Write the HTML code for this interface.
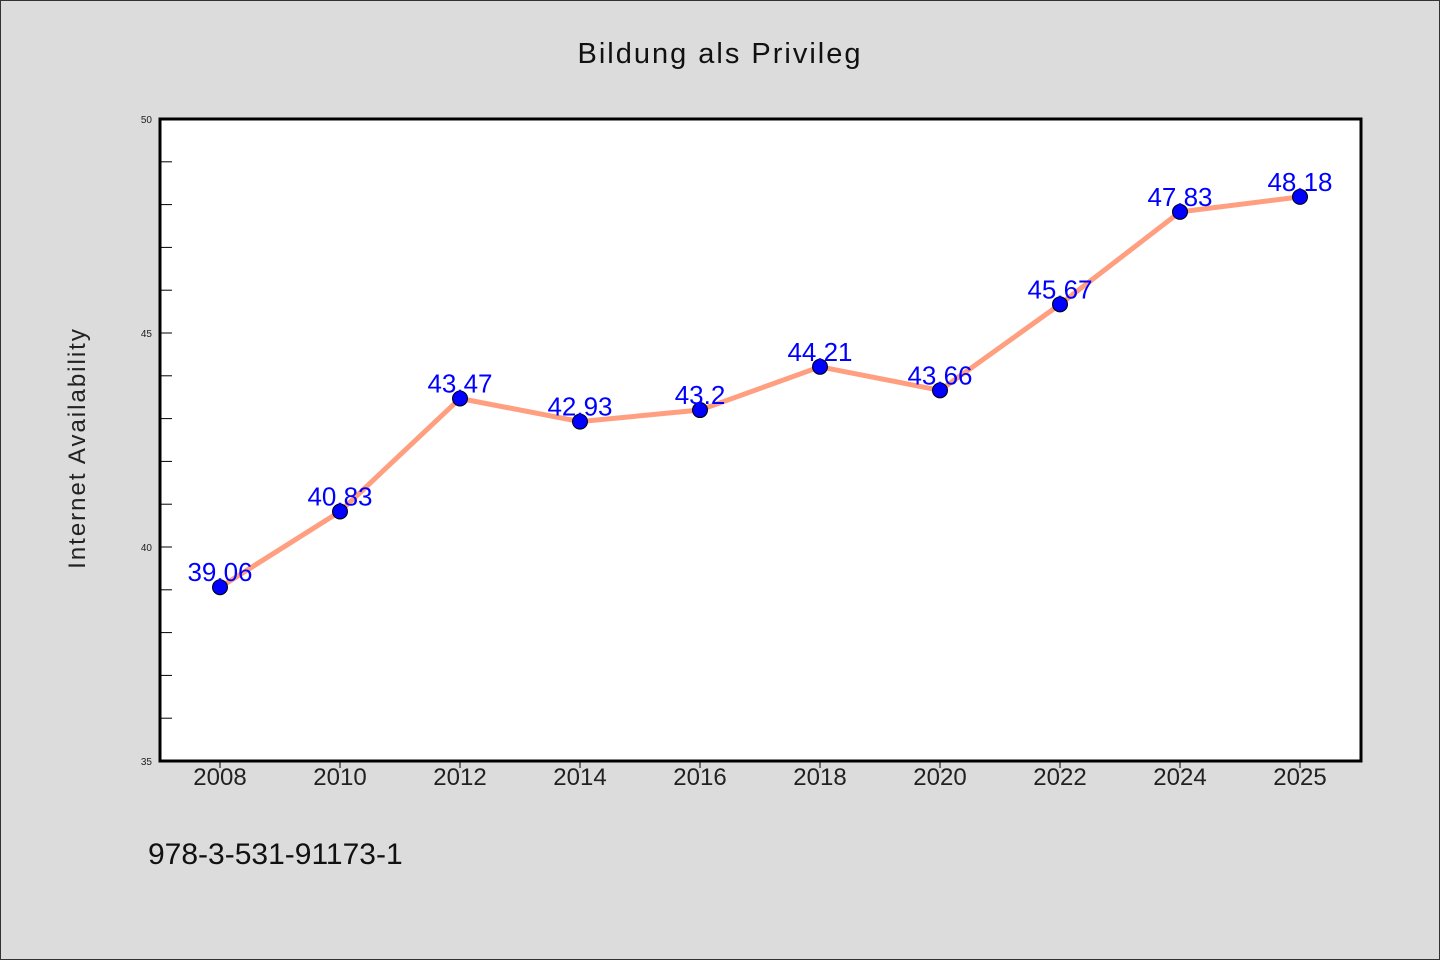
<!DOCTYPE html>
<html><head><meta charset="utf-8"><style>
body{margin:0;background:#dcdcdc;}
svg{display:block;font-family:"WenQuanYi Zen Hei","Liberation Sans",sans-serif;}
</style></head><body>
<svg width="1440" height="960">
<rect x="0.5" y="0.5" width="1439" height="959" fill="#dcdcdc" stroke="#333"/>
<text x="720" y="63" text-anchor="middle" font-size="29" letter-spacing="2" fill="#111">Bildung als Privileg</text>
<rect x="160" y="119" width="1201" height="642" fill="#fff"/>
<g id="axes"></g>
<g id="marks"></g>
<path d="M160 119 H1361 V761 H160 Z" fill="none" stroke="#000" stroke-width="3"/>
<text transform="translate(85,448) rotate(-90)" text-anchor="middle" font-size="24" letter-spacing="2" fill="#222">Internet Availability</text>
<text x="148" y="864" font-size="30" fill="#111">978-3-531-91173-1</text>
</svg>
<script>
const categories=["2008","2010","2012","2014","2016","2018","2020","2022","2024","2025"];
const values=[39.06,40.83,43.47,42.93,43.2,44.21,43.66,45.67,47.83,48.18];
const valueLabels=["39.06","40.83","43.47","42.93","43.2","44.21","43.66","45.67","47.83","48.18"];
const yTicks=[35,40,45,50];
const yMin=35,yMax=50;
const NS="http://www.w3.org/2000/svg";
const x=i=>220+i*120;
const y=v=>761-(v-yMin)/(yMax-yMin)*642;
function mk(t,a,p){const e=document.createElementNS(NS,t);for(const k in a)e.setAttribute(k,a[k]);p.appendChild(e);return e;}
const ax=document.getElementById('axes'),mg=document.getElementById('marks');
for(let v=yMin+1;v<yMax;v++){
 const t=mk('line',{x1:160,x2:172,y1:y(v),y2:y(v),stroke:'#000','stroke-width':1},ax);
 
 
}
yTicks.forEach(v=>{
 const t=mk('text',{x:152,y:y(v)+4,'text-anchor':'end','font-size':10,fill:'#222'},ax);
 t.textContent=v;
 
 
});
categories.forEach((c,i)=>{
 const l=mk('line',{x1:x(i),x2:x(i),y1:761,y2:768,stroke:'#000','stroke-width':1},ax);
 
 
 const t=mk('text',{x:x(i),y:785,'text-anchor':'middle','font-size':24,fill:'#222'},ax);
 t.textContent=c;
 
 
});
const line=mk('polyline',{points:values.map((v,i)=>x(i)+','+y(v)).join(' '),fill:'none',stroke:'#ff9f80','stroke-width':5},mg);


values.forEach((v,i)=>{
 const c=mk('circle',{cx:x(i),cy:y(v),r:7.5,fill:'#0000ff',stroke:'#000','stroke-width':1},mg);
 
 
});
values.forEach((v,i)=>{
 const t=mk('text',{x:x(i),y:y(v)-6,'text-anchor':'middle','font-size':26,fill:'#0000ff'},mg);
 t.textContent=valueLabels[i];
 
 
});
</script>
</body></html>
